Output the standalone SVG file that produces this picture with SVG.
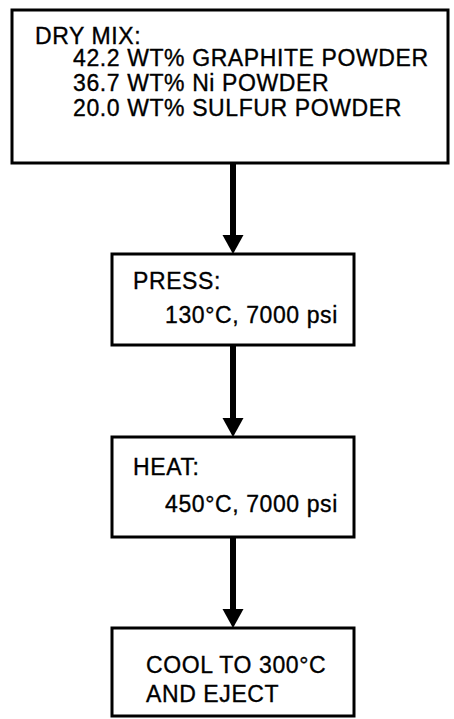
<svg xmlns="http://www.w3.org/2000/svg" width="454" height="719" viewBox="0 0 454 719">
  <style>
    .box { fill: #ffffff; stroke: #000000; stroke-width: 3; }
    .t { font-family: "Liberation Sans", Arial, Helvetica, sans-serif; font-size: 23px; fill: #000000; stroke: #000000; stroke-width: 0.35; letter-spacing: 0.6px; }
    .shaft { stroke: #000000; stroke-width: 6; fill: none; }
    .head { fill: #000000; stroke: none; }
  </style>
  <rect width="454" height="719" fill="#ffffff"/>
  <g id="connectors">
    <line class="shaft" x1="233" y1="163" x2="233" y2="238"/>
    <polygon class="head" points="222.5,235 243.5,235 233,254"/>
    <line class="shaft" x1="233" y1="345" x2="233" y2="421"/>
    <polygon class="head" points="222.5,418 243.5,418 233,437"/>
    <line class="shaft" x1="233" y1="537" x2="233" y2="612"/>
    <polygon class="head" points="222.5,609 243.5,609 233,628"/>
  </g>
  <g id="node-drymix">
    <rect class="box" x="12" y="10" width="436" height="153"/>
    <text class="t" x="35" y="44">DRY MIX:</text>
    <text class="t" x="73" y="66">42.2 WT% GRAPHITE POWDER</text>
    <text class="t" x="73" y="91">36.7 WT% Ni POWDER</text>
    <text class="t" x="73" y="116">20.0 WT% SULFUR POWDER</text>
  </g>
  <g id="node-press">
    <rect class="box" x="112" y="254" width="242" height="91"/>
    <text class="t" x="133" y="289">PRESS:</text>
    <text class="t" x="165" y="323">130°C, 7000 psi</text>
  </g>
  <g id="node-heat">
    <rect class="box" x="112" y="437" width="242" height="100"/>
    <text class="t" x="133" y="475">HEAT:</text>
    <text class="t" x="165" y="512">450°C, 7000 psi</text>
  </g>
  <g id="node-cool">
    <rect class="box" x="112" y="628" width="242" height="88"/>
    <text class="t" x="146" y="673">COOL TO 300°C</text>
    <text class="t" x="146" y="702">AND EJECT</text>
  </g>
</svg>
